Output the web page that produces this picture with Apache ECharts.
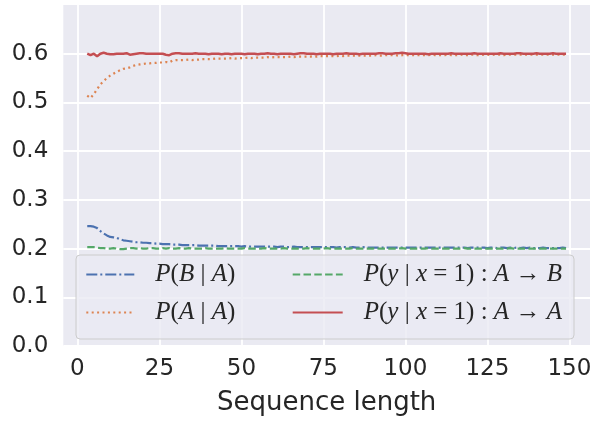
<!DOCTYPE html>
<html>
<head>
<meta charset="utf-8">
<script src="https://cdn.jsdelivr.net/npm/echarts@6/dist/echarts.min.js"></script>
<style>html,body{margin:0;padding:0;background:#fff}#c{width:595px;height:421px}</style>
</head>
<body>
<div id="c"></div>
<script>
const seqLen = [
  3,4,5,6,7,8,9,10,11,12,
  13,14,15,16,17,18,19,20,21,22,
  23,24,25,26,27,28,29,30,31,32,
  33,34,35,36,37,38,39,40,41,42,
  43,44,45,46,47,48,49,50,51,52,
  53,54,55,56,57,58,59,60,61,62,
  63,64,65,66,67,68,69,70,71,72,
  73,74,75,76,77,78,79,80,81,82,
  83,84,85,86,87,88,89,90,91,92,
  93,94,95,96,97,98,99,100,101,102,
  103,104,105,106,107,108,109,110,111,112,
  113,114,115,116,117,118,119,120,121,122,
  123,124,125,126,127,128,129,130,131,132,
  133,134,135,136,137,138,139,140,141,142,
  143,144,145,146,147,148,149
];
const pBA = [
  0.246,0.246,0.245,0.242,0.236,0.231,0.227,0.224,0.223,0.222,
  0.219,0.217,0.216,0.215,0.214,0.213,0.213,0.212,0.212,0.211,
  0.211,0.210,0.210,0.209,0.209,0.209,0.208,0.208,0.208,0.207,
  0.207,0.207,0.207,0.207,0.206,0.206,0.206,0.206,0.206,0.206,
  0.205,0.205,0.205,0.205,0.205,0.205,0.205,0.204,0.205,0.204,
  0.204,0.204,0.204,0.204,0.204,0.204,0.204,0.204,0.203,0.204,
  0.204,0.203,0.203,0.204,0.203,0.203,0.203,0.203,0.203,0.203,
  0.203,0.203,0.203,0.203,0.203,0.203,0.202,0.203,0.203,0.203,
  0.202,0.203,0.202,0.202,0.203,0.202,0.202,0.202,0.202,0.202,
  0.202,0.202,0.202,0.202,0.202,0.202,0.202,0.202,0.202,0.202,
  0.202,0.202,0.202,0.202,0.202,0.202,0.202,0.202,0.202,0.202,
  0.202,0.202,0.202,0.202,0.202,0.202,0.201,0.202,0.202,0.202,
  0.202,0.202,0.201,0.202,0.202,0.201,0.202,0.202,0.201,0.202,
  0.201,0.202,0.201,0.202,0.201,0.202,0.201,0.201,0.201,0.202,
  0.201,0.201,0.201,0.201,0.201,0.202,0.201
];
const pAA = [
  0.514,0.509,0.517,0.527,0.537,0.544,0.550,0.555,0.559,0.563,
  0.566,0.569,0.570,0.572,0.575,0.577,0.578,0.579,0.580,0.580,
  0.581,0.581,0.582,0.582,0.583,0.582,0.586,0.587,0.587,0.587,
  0.587,0.588,0.587,0.588,0.588,0.589,0.589,0.589,0.589,0.590,
  0.590,0.590,0.590,0.590,0.591,0.590,0.591,0.591,0.591,0.592,
  0.591,0.592,0.592,0.592,0.592,0.593,0.592,0.593,0.593,0.593,
  0.593,0.593,0.594,0.593,0.594,0.594,0.594,0.594,0.594,0.595,
  0.594,0.595,0.595,0.595,0.595,0.595,0.595,0.596,0.595,0.596,
  0.596,0.596,0.596,0.596,0.596,0.596,0.596,0.596,0.597,0.596,
  0.596,0.597,0.597,0.597,0.597,0.596,0.597,0.597,0.597,0.597,
  0.597,0.597,0.597,0.597,0.597,0.598,0.597,0.597,0.597,0.597,
  0.598,0.597,0.597,0.597,0.598,0.597,0.597,0.598,0.598,0.597,
  0.597,0.598,0.598,0.597,0.598,0.598,0.598,0.597,0.598,0.598,
  0.598,0.598,0.598,0.598,0.598,0.598,0.598,0.598,0.598,0.598,
  0.598,0.598,0.598,0.598,0.598,0.598,0.598
];
const pAtoB = [
  0.203,0.203,0.203,0.202,0.201,0.201,0.200,0.200,0.201,0.200,
  0.199,0.199,0.200,0.201,0.201,0.200,0.201,0.200,0.200,0.201,
  0.201,0.200,0.200,0.201,0.200,0.201,0.200,0.200,0.201,0.200,
  0.200,0.201,0.200,0.200,0.200,0.200,0.201,0.200,0.200,0.200,
  0.200,0.200,0.201,0.200,0.200,0.200,0.200,0.200,0.201,0.200,
  0.200,0.200,0.200,0.200,0.201,0.200,0.200,0.200,0.200,0.200,
  0.201,0.200,0.200,0.200,0.200,0.200,0.200,0.201,0.200,0.200,
  0.200,0.200,0.200,0.201,0.200,0.200,0.200,0.200,0.200,0.200,
  0.200,0.201,0.200,0.200,0.200,0.200,0.200,0.200,0.201,0.200,
  0.200,0.200,0.200,0.200,0.200,0.200,0.201,0.200,0.200,0.200,
  0.200,0.200,0.200,0.200,0.201,0.200,0.200,0.200,0.200,0.200,
  0.200,0.200,0.200,0.200,0.200,0.201,0.200,0.200,0.200,0.200,
  0.200,0.200,0.200,0.200,0.200,0.200,0.200,0.200,0.200,0.201,
  0.200,0.200,0.200,0.200,0.200,0.200,0.200,0.200,0.200,0.200,
  0.200,0.200,0.200,0.200,0.200,0.200,0.200
];
const pAtoA = [
  0.600,0.597,0.600,0.595,0.600,0.602,0.600,0.599,0.599,0.600,
  0.600,0.600,0.601,0.598,0.599,0.600,0.601,0.601,0.600,0.600,
  0.600,0.600,0.600,0.600,0.598,0.597,0.600,0.601,0.601,0.600,
  0.600,0.600,0.600,0.601,0.600,0.600,0.600,0.599,0.600,0.600,
  0.600,0.599,0.600,0.600,0.599,0.600,0.600,0.600,0.599,0.600,
  0.600,0.600,0.599,0.600,0.600,0.601,0.600,0.600,0.599,0.600,
  0.600,0.600,0.600,0.599,0.600,0.601,0.601,0.600,0.600,0.600,
  0.599,0.600,0.600,0.600,0.600,0.599,0.600,0.600,0.600,0.601,
  0.600,0.600,0.600,0.599,0.600,0.600,0.600,0.600,0.600,0.601,
  0.601,0.600,0.600,0.600,0.601,0.601,0.602,0.601,0.600,0.600,
  0.600,0.600,0.600,0.600,0.599,0.600,0.600,0.600,0.600,0.600,
  0.600,0.601,0.600,0.600,0.600,0.600,0.600,0.600,0.601,0.600,
  0.600,0.600,0.600,0.600,0.600,0.600,0.601,0.600,0.600,0.600,
  0.600,0.601,0.601,0.600,0.600,0.600,0.600,0.601,0.600,0.600,
  0.600,0.600,0.601,0.600,0.600,0.600,0.600
];
const xTicks = [0, 25, 50, 75, 100, 125, 150];
const yTicks = [0, 0.1, 0.2, 0.3, 0.4, 0.5, 0.6];
const seriesNames = ['P(B|A)', 'P(A|A)', 'P(y|x=1):A→B', 'P(y|x=1):A→A'];
const legendRich = {
  'P(B|A)': '{i|P}{r|(}{i|B}{r| | }{i|A}{r|)}',
  'P(A|A)': '{i|P}{r|(}{i|A}{r| | }{i|A}{r|)}',
  'P(y|x=1):A→B': '{i|P}{r|(}{i|y}{r| | }{i|x}{r| = 1) : }{i|A}{r| → }{i|B}',
  'P(y|x=1):A→A': '{i|P}{r|(}{i|y}{r| | }{i|x}{r| = 1) : }{i|A}{r| → }{i|A}'
};

const pair = (ys) => seqLen.map((x, i) => [x, ys[i]]);
const TXT = '#262626';
const richStyles = {
  i: { fontFamily: 'Liberation Serif', fontStyle: 'italic', fontSize: 25, color: TXT },
  r: { fontFamily: 'Liberation Serif', fontSize: 25, color: TXT }
};
const legendCommon = {
  orient: 'vertical',
  itemWidth: 48,
  itemHeight: 14,
  itemGap: 8,
  padding: 0,
  z: 10,
  itemStyle: { opacity: 0 },
  formatter: (n) => legendRich[n],
  textStyle: { padding: [0, 0, 0, 16], lineHeight: 30, rich: richStyles }
};

const chart = echarts.init(document.getElementById('c'), null, { renderer: 'canvas' });
chart.setOption({
  animation: false,
  backgroundColor: '#ffffff',
  grid: { left: 63.3, right: 5, top: 5, bottom: 71, show: true, backgroundColor: '#EAEAF2', borderWidth: 0 },
  xAxis: {
    type: 'value', min: -4.3, max: 156.3,
    axisLine: { show: false },
    axisTick: { show: false, customValues: xTicks },
    axisLabel: { customValues: xTicks, fontFamily: 'DejaVu Sans', fontSize: 23, color: TXT, margin: 12 },
    splitLine: { show: true, lineStyle: { color: '#ffffff', width: 1.8 } },
    name: 'Sequence length', nameLocation: 'middle', nameGap: 44,
    nameTextStyle: { fontFamily: 'DejaVu Sans', fontSize: 26, color: TXT }
  },
  yAxis: {
    type: 'value', min: 0, max: 0.7,
    axisLine: { show: false },
    axisTick: { show: false, customValues: yTicks },
    axisLabel: { customValues: yTicks, formatter: (v) => v.toFixed(1), fontFamily: 'DejaVu Sans', fontSize: 23, color: TXT, margin: 15 },
    splitLine: { show: true, lineStyle: { color: '#ffffff', width: 1.8 } }
  },
  legend: [
    Object.assign({}, legendCommon, { data: [seriesNames[0], seriesNames[1]], left: 85.3, top: 259.5 }),
    Object.assign({}, legendCommon, { data: [seriesNames[2], seriesNames[3]], left: 291.7, top: 259.5, itemWidth: 50 })
  ],
  graphic: [{
    type: 'rect', z: 5, silent: true,
    shape: { x: 76, y: 255, width: 498, height: 84, r: 4 },
    style: { fill: 'rgba(234,234,242,0.8)', stroke: '#cccccc', lineWidth: 1 }
  }],
  series: [
    { name: seriesNames[0], type: 'line', data: pair(pBA), symbol: 'none', z: 2,
      color: '#4C72B0', lineStyle: { color: '#4C72B0', width: 2.2, type: [11, 3, 2, 3] } },
    { name: seriesNames[1], type: 'line', data: pair(pAA), symbol: 'none', z: 2,
      color: '#DD8452', lineStyle: { color: '#DD8452', width: 2.2, type: [2, 3.4] } },
    { name: seriesNames[2], type: 'line', data: pair(pAtoB), symbol: 'none', z: 2,
      color: '#55A868', lineStyle: { color: '#55A868', width: 2.2, type: [7.5, 3.3] } },
    { name: seriesNames[3], type: 'line', data: pair(pAtoA), symbol: 'none', z: 2,
      color: '#C44E52', lineStyle: { color: '#C44E52', width: 2.5, type: 'solid' } }
  ]
});
</script>
</body>
</html>
